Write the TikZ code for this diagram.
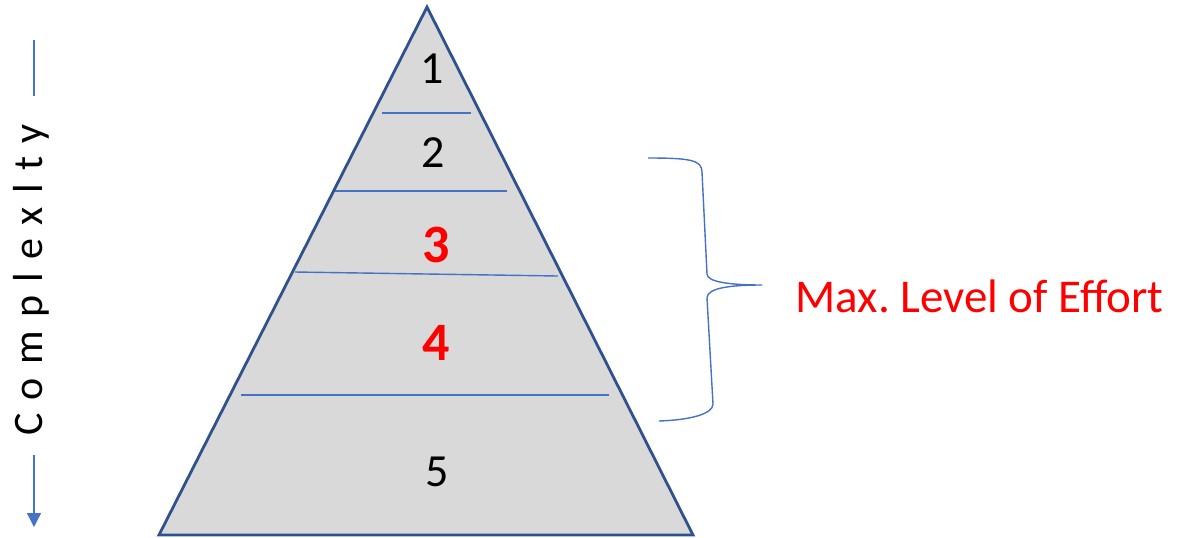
\documentclass[tikz,border=0pt]{standalone}
\usepackage{fontspec}
\setmainfont{Carlito}
\usetikzlibrary{arrows.meta, math}
\definecolor{tblue}{RGB}{47,82,143}
\definecolor{lblue}{RGB}{68,114,196}
\definecolor{tgray}{RGB}{217,217,217}
\definecolor{tred}{RGB}{255,0,0}

\begin{document}
\frenchspacing
\begin{tikzpicture}[x=0.5pt,y=-0.5pt,
  level/.style={lblue, line width=0.7pt},
  num/.style={font=\fontsize{23}{28}\selectfont},
  hot/.style={tred, font=\fontsize{27}{32}\selectfont\bfseries}]

\useasboundingbox (0,0) rectangle (1178,537);

\coordinate (A) at (427,7);
\coordinate (B) at (159,535);
\coordinate (C) at (693,535);

%pyramid:
\draw[tblue, line width=1.4pt, fill=tgray, line join=miter] (A) -- (C) -- (B) -- cycle;

%levels
\draw[level] (382,113) -- (471,113);
\draw[level] (335,191) -- (507,191);
\draw[level] (295,272) -- (558,276);
\draw[level] (241,395) -- (609,395);

%numbers
\node[num] (n1) at (432,69) {1};
\node[num] (n2) at (433,153) {2};
\node[hot] (n3) at (436,245) {3};
\node[hot] (n4) at (436,343) {4};
\node[num] (n5) at (437,472) {5};

%brace
\draw[level] (648,158) .. controls (690,158) and (702,160) .. (702,172)
  -- (707,274) .. controls (707,282) and (730,285) .. (762,285)
  .. controls (730,285) and (707,288) .. (707,298)
  -- (713,404) .. controls (713,414) and (690,420) .. (659,421);
\node[anchor=base west, inner sep=0pt, tred, font=\fontsize{23.5}{28}\selectfont] (effort) at (795,312) {Max. Level of Effort};

%complexity axis
\node[rotate=90, anchor=base, font=\fontsize{21}{26}\selectfont] (cplx) at (42,280)
  {\addfontfeature{LetterSpace=32}Complexlty};
\coordinate (ctop) at (34,40);
\coordinate (cbot) at (34,527);
\draw[level] (ctop) -- (34,96);
\draw[level, -{Triangle[length=7pt, width=7pt]}] (34,455) -- (cbot);

\end{tikzpicture}
\end{document}
